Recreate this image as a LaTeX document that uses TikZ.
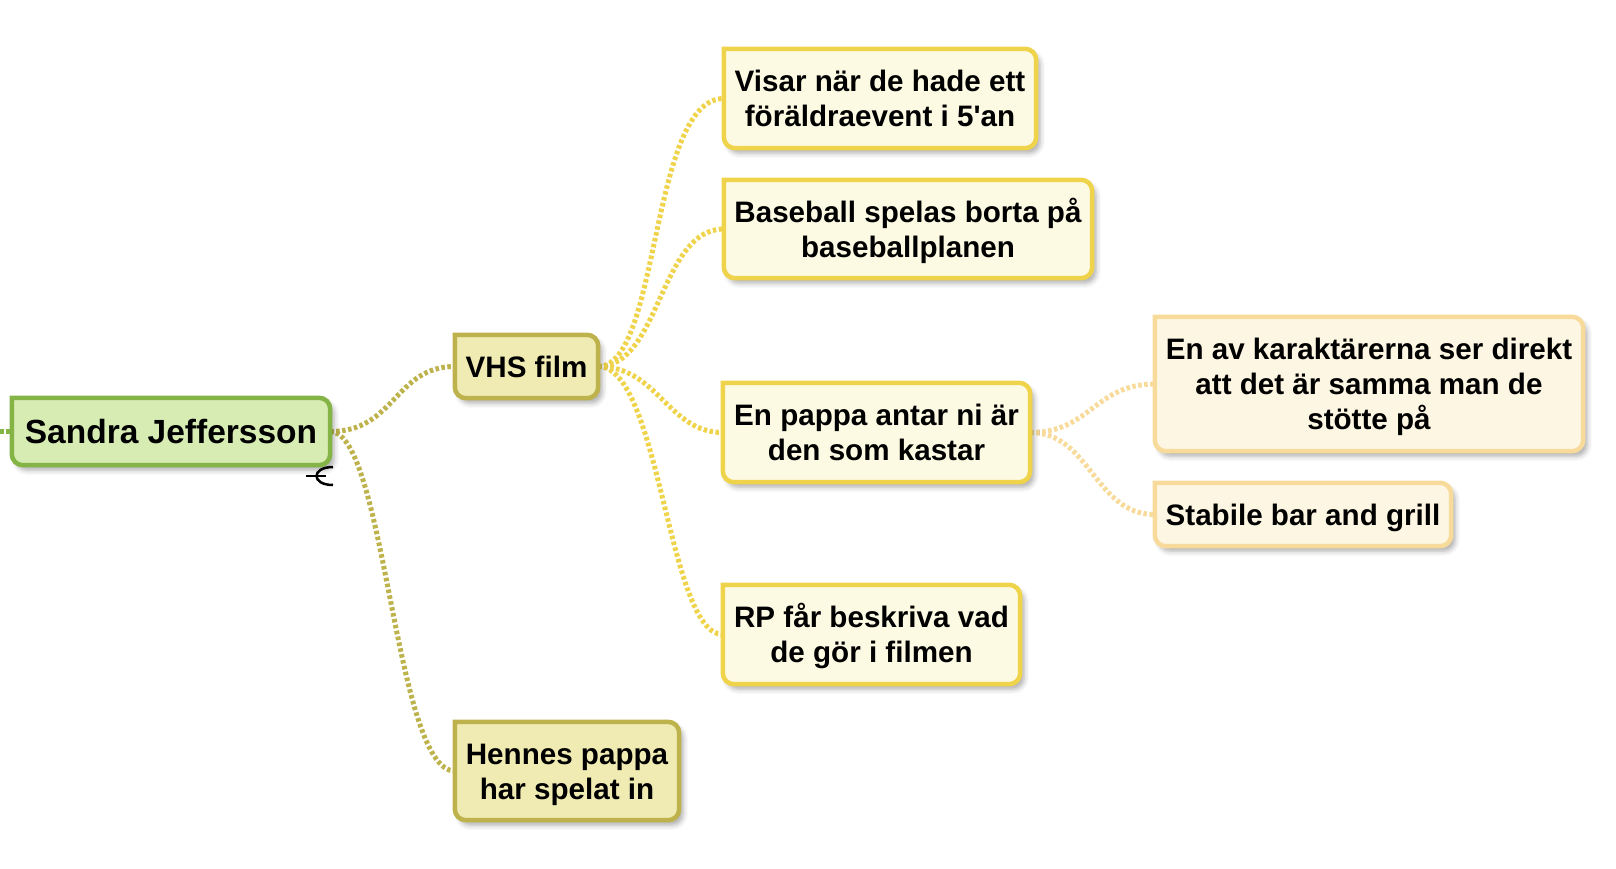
\documentclass[tikz,border=0pt]{standalone}
\usepackage{fontspec}
\setmainfont[Ligatures=TeXOff]{Liberation Sans}
\usetikzlibrary{shadows.blur}
\pgfdeclarelayer{lines}
\pgfdeclarelayer{boxes}
\pgfsetlayers{lines,boxes,main}
\definecolor{gbord}{RGB}{132,180,70}
\definecolor{gfill}{RGB}{214,236,179}
\definecolor{obord}{RGB}{189,178,76}
\definecolor{ofill}{RGB}{239,235,178}
\definecolor{ybord}{RGB}{239,211,75}
\definecolor{yfill}{RGB}{253,250,227}
\definecolor{rbord}{RGB}{248,219,155}
\definecolor{rfill}{RGB}{252,246,226}
\def\mmr{11pt}
\def\mmk{5pt}
\newcommand\mmbox[2]{%
 \path[#2] (#1.north west) -- ([xshift=-\mmr]#1.north east)
  .. controls ([xshift=-\mmk]#1.north east) and ([yshift=-\mmk]#1.north east) .. ([yshift=-\mmr]#1.north east)
  -- ([yshift=\mmr]#1.south east)
  .. controls ([yshift=\mmk]#1.south east) and ([xshift=-\mmk]#1.south east) .. ([xshift=-\mmr]#1.south east)
  -- ([xshift=\mmr]#1.south west)
  .. controls ([xshift=\mmk]#1.south west) and ([yshift=\mmk]#1.south west) .. ([yshift=\mmr]#1.south west)
  -- cycle;}
\tikzset{
 txt/.style={inner sep=0pt, align=center, font=\bfseries\fontsize{29.6}{35}\selectfont},
 roottxt/.style={inner sep=0pt, align=center, font=\bfseries\fontsize{33.5}{40}\selectfont, text height=24pt, text depth=0pt},
 oneline/.style={text height=21.3pt, text depth=0pt},
 twoline/.style={text height=56.3pt, text depth=0pt},
 threeline/.style={text height=91.3pt, text depth=0pt},
 boxbase/.style={line width=4.5pt, blur shadow={shadow xshift=4pt, shadow yshift=-5pt, shadow blur radius=5pt, shadow opacity=32}},
 gbox/.style={boxbase, draw=gbord, fill=gfill},
 obox/.style={boxbase, draw=obord, fill=ofill},
 ybox/.style={boxbase, draw=ybord, fill=yfill},
 rbox/.style={boxbase, draw=rbord, fill=rfill},
 conn/.style={line width=5pt, dash pattern=on 3.5pt off 2.5pt},
}
\begin{document}
\begin{tikzpicture}[x=1pt,y=-1pt]
\useasboundingbox (0,0) rectangle (1616,868);
% nodes
\node[roottxt, minimum width=318pt, minimum height=67pt] (sandra) at (171,431.5) {Sandra Jeffersson};
\node[txt, oneline, minimum width=143pt, minimum height=63pt] (vhs) at (526.5,366.5) {VHS film};
\node[txt, twoline, minimum width=224pt, minimum height=98pt] (hennes) at (567,771) {Hennes pappa\\har spelat in};
\node[txt, twoline, minimum width=312pt, minimum height=99pt] (visar) at (880,98.5) {Visar när de hade ett\\föräldraevent i 5'an};
\node[txt, twoline, minimum width=368pt, minimum height=98pt] (baseball) at (908,229) {Baseball spelas borta på\\baseballplanen};
\node[txt, twoline, minimum width=307pt, minimum height=99pt] (pappa) at (876.5,432.5) {En pappa antar ni är\\den som kastar};
\node[txt, twoline, minimum width=297pt, minimum height=99pt] (rp) at (871.5,634.5) {RP får beskriva vad\\de gör i filmen};
\node[txt, threeline, minimum width=428pt, minimum height=134pt] (enav) at (1369,384) {En av karaktärerna ser direkt\\att det är samma man de\\stötte på};
\node[txt, oneline, minimum width=296pt, minimum height=63pt] (stabile) at (1303,514.5) {Stabile bar and grill};
\coordinate (stub) at (0,431.5);
% boxes
\begin{pgfonlayer}{boxes}
\mmbox{sandra}{gbox}
\mmbox{vhs}{obox}
\mmbox{hennes}{obox}
\mmbox{visar}{ybox}
\mmbox{baseball}{ybox}
\mmbox{pappa}{ybox}
\mmbox{rp}{ybox}
\mmbox{enav}{rbox}
\mmbox{stabile}{rbox}
\end{pgfonlayer}
% connectors
\begin{pgfonlayer}{lines}
\draw[conn, gbord] (stub) -- (sandra.west);
\draw[conn, obord] (sandra.east) .. controls +(65,0) and +(-60,0) .. (vhs.west);
\draw[conn, obord] (sandra.east) .. controls +(55,0) and +(-60,0) .. (hennes.west);
\draw[conn, ybord] (vhs.east) .. controls +(62,0) and +(-74,0) .. (visar.west);
\draw[conn, ybord] (vhs.east) .. controls +(62,0) and +(-64,0) .. (baseball.west);
\draw[conn, ybord] (vhs.east) .. controls +(60,0) and +(-55,0) .. (pappa.west);
\draw[conn, ybord] (vhs.east) .. controls +(62,0) and +(-55,0) .. (rp.west);
\draw[conn, rbord] (pappa.east) .. controls +(60,0) and +(-60,0) .. (enav.west);
\draw[conn, rbord] (pappa.east) .. controls +(60,0) and +(-60,0) .. (stabile.west);
\end{pgfonlayer}
% collapse icon
\draw[line width=2.5pt] (306,476) -- (326,476);
\draw[line width=2.5pt] (333,467) .. controls (311,467) and (311,485) .. (333,485);
\end{tikzpicture}
\end{document}
